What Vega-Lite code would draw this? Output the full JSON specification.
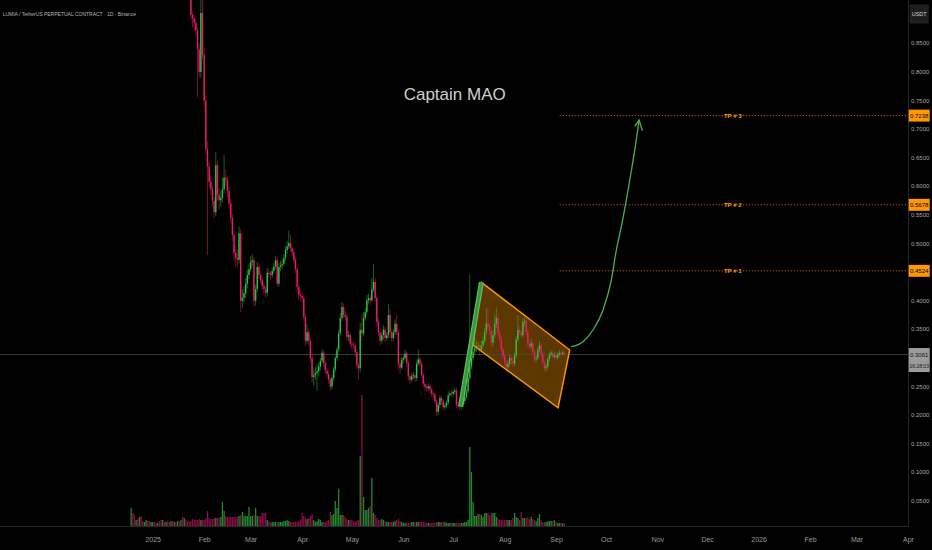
{
  "$schema": "https://vega.github.io/schema/vega-lite/v6.json",
  "description": "LUMIA / TetherUS perpetual, daily candles with bull flag and three targets",
  "width": 908,
  "height": 526,
  "autosize": {"type": "none"},
  "padding": {"left": 0, "top": 0, "right": 24, "bottom": 24},
  "background": "#000000",
  "config": {
    "view": {"stroke": null},
    "font": "Liberation Sans Narrow, Liberation Sans, Arial, sans-serif",
    "axis": {"grid": false, "ticks": false, "domainColor": "#262626", "labelColor": "#a8a8a8", "titleColor": "#a8a8a8"}
  },
  "datasets": {
    "candles": [
      {"t":"2024-12-19","o":1.20,"h":1.75,"l":1.10,"c":1.55,"v":18},
      {"t":"2024-12-20","o":1.55,"h":1.62,"l":1.35,"c":1.42,"v":13},
      {"t":"2024-12-21","o":1.42,"h":1.48,"l":1.24,"c":1.30,"v":11},
      {"t":"2024-12-22","o":1.30,"h":1.40,"l":1.26,"c":1.36,"v":6},
      {"t":"2024-12-23","o":1.36,"h":1.38,"l":1.22,"c":1.28,"v":7},
      {"t":"2024-12-24","o":1.28,"h":1.45,"l":1.26,"c":1.40,"v":9},
      {"t":"2024-12-25","o":1.40,"h":1.44,"l":1.28,"c":1.31,"v":10},
      {"t":"2024-12-26","o":1.31,"h":1.34,"l":1.24,"c":1.27,"v":5},
      {"t":"2024-12-27","o":1.27,"h":1.33,"l":1.25,"c":1.30,"v":4},
      {"t":"2024-12-28","o":1.30,"h":1.36,"l":1.28,"c":1.33,"v":6},
      {"t":"2024-12-29","o":1.33,"h":1.35,"l":1.26,"c":1.29,"v":5},
      {"t":"2024-12-30","o":1.29,"h":1.31,"l":1.22,"c":1.25,"v":5},
      {"t":"2024-12-31","o":1.25,"h":1.30,"l":1.23,"c":1.28,"v":4},
      {"t":"2025-01-01","o":1.28,"h":1.33,"l":1.26,"c":1.30,"v":4},
      {"t":"2025-01-02","o":1.30,"h":1.32,"l":1.25,"c":1.27,"v":4},
      {"t":"2025-01-03","o":1.27,"h":1.29,"l":1.22,"c":1.24,"v":3},
      {"t":"2025-01-04","o":1.24,"h":1.29,"l":1.23,"c":1.27,"v":3},
      {"t":"2025-01-05","o":1.27,"h":1.28,"l":1.20,"c":1.22,"v":5},
      {"t":"2025-01-06","o":1.22,"h":1.24,"l":1.17,"c":1.19,"v":6},
      {"t":"2025-01-07","o":1.19,"h":1.23,"l":1.17,"c":1.21,"v":6},
      {"t":"2025-01-08","o":1.21,"h":1.22,"l":1.14,"c":1.16,"v":4},
      {"t":"2025-01-09","o":1.16,"h":1.20,"l":1.15,"c":1.18,"v":4},
      {"t":"2025-01-10","o":1.18,"h":1.19,"l":1.11,"c":1.13,"v":5},
      {"t":"2025-01-11","o":1.13,"h":1.15,"l":1.08,"c":1.10,"v":4},
      {"t":"2025-01-12","o":1.10,"h":1.14,"l":1.09,"c":1.12,"v":5},
      {"t":"2025-01-13","o":1.12,"h":1.13,"l":1.06,"c":1.08,"v":5},
      {"t":"2025-01-14","o":1.08,"h":1.12,"l":1.07,"c":1.10,"v":4},
      {"t":"2025-01-15","o":1.10,"h":1.11,"l":1.04,"c":1.06,"v":4},
      {"t":"2025-01-16","o":1.06,"h":1.11,"l":1.05,"c":1.09,"v":5},
      {"t":"2025-01-17","o":1.09,"h":1.10,"l":1.03,"c":1.05,"v":5},
      {"t":"2025-01-18","o":1.05,"h":1.09,"l":1.03,"c":1.07,"v":6},
      {"t":"2025-01-19","o":1.07,"h":1.08,"l":0.99,"c":1.01,"v":9},
      {"t":"2025-01-20","o":1.01,"h":1.06,"l":0.99,"c":1.04,"v":8},
      {"t":"2025-01-21","o":1.04,"h":1.05,"l":0.97,"c":0.99,"v":6},
      {"t":"2025-01-22","o":0.99,"h":1.02,"l":0.96,"c":0.97,"v":5},
      {"t":"2025-01-23","o":0.97,"h":1.00,"l":0.945,"c":0.96,"v":4},
      {"t":"2025-01-24","o":0.96,"h":0.98,"l":0.89,"c":0.90,"v":5},
      {"t":"2025-01-25","o":0.90,"h":0.905,"l":0.878,"c":0.894,"v":7},
      {"t":"2025-01-26","o":0.894,"h":0.90,"l":0.872,"c":0.886,"v":6},
      {"t":"2025-01-27","o":0.886,"h":0.892,"l":0.862,"c":0.873,"v":6},
      {"t":"2025-01-28","o":0.873,"h":0.878,"l":0.756,"c":0.84,"v":6},
      {"t":"2025-01-29","o":0.84,"h":0.85,"l":0.79,"c":0.80,"v":7},
      {"t":"2025-01-30","o":0.80,"h":0.94,"l":0.79,"c":0.903,"v":6},
      {"t":"2025-01-31","o":0.903,"h":0.93,"l":0.82,"c":0.83,"v":6},
      {"t":"2025-02-01","o":0.83,"h":0.842,"l":0.74,"c":0.75,"v":6},
      {"t":"2025-02-02","o":0.75,"h":0.76,"l":0.655,"c":0.665,"v":8},
      {"t":"2025-02-03","o":0.665,"h":0.68,"l":0.48,"c":0.635,"v":15},
      {"t":"2025-02-04","o":0.635,"h":0.645,"l":0.598,"c":0.608,"v":8},
      {"t":"2025-02-05","o":0.608,"h":0.62,"l":0.585,"c":0.595,"v":7},
      {"t":"2025-02-06","o":0.595,"h":0.603,"l":0.565,"c":0.575,"v":7},
      {"t":"2025-02-07","o":0.575,"h":0.582,"l":0.545,"c":0.555,"v":8},
      {"t":"2025-02-08","o":0.555,"h":0.66,"l":0.548,"c":0.637,"v":8},
      {"t":"2025-02-09","o":0.637,"h":0.645,"l":0.575,"c":0.585,"v":8},
      {"t":"2025-02-10","o":0.585,"h":0.598,"l":0.56,"c":0.576,"v":8},
      {"t":"2025-02-11","o":0.576,"h":0.592,"l":0.565,"c":0.58,"v":9},
      {"t":"2025-02-12","o":0.58,"h":0.615,"l":0.572,"c":0.595,"v":24},
      {"t":"2025-02-13","o":0.595,"h":0.655,"l":0.588,"c":0.615,"v":15},
      {"t":"2025-02-14","o":0.615,"h":0.63,"l":0.60,"c":0.612,"v":10},
      {"t":"2025-02-15","o":0.612,"h":0.618,"l":0.58,"c":0.592,"v":9},
      {"t":"2025-02-16","o":0.592,"h":0.60,"l":0.56,"c":0.57,"v":9},
      {"t":"2025-02-17","o":0.57,"h":0.578,"l":0.535,"c":0.545,"v":9},
      {"t":"2025-02-18","o":0.545,"h":0.552,"l":0.505,"c":0.515,"v":9},
      {"t":"2025-02-19","o":0.515,"h":0.522,"l":0.47,"c":0.484,"v":9},
      {"t":"2025-02-20","o":0.484,"h":0.495,"l":0.46,"c":0.475,"v":9},
      {"t":"2025-02-21","o":0.475,"h":0.49,"l":0.458,"c":0.472,"v":9},
      {"t":"2025-02-22","o":0.472,"h":0.53,"l":0.465,"c":0.518,"v":10},
      {"t":"2025-02-23","o":0.518,"h":0.525,"l":0.38,"c":0.40,"v":11},
      {"t":"2025-02-24","o":0.40,"h":0.42,"l":0.388,"c":0.405,"v":14},
      {"t":"2025-02-25","o":0.405,"h":0.425,"l":0.398,"c":0.413,"v":10},
      {"t":"2025-02-26","o":0.413,"h":0.44,"l":0.405,"c":0.43,"v":10},
      {"t":"2025-02-27","o":0.43,"h":0.455,"l":0.422,"c":0.445,"v":10},
      {"t":"2025-02-28","o":0.445,"h":0.465,"l":0.438,"c":0.455,"v":19},
      {"t":"2025-03-01","o":0.455,"h":0.478,"l":0.45,"c":0.468,"v":10},
      {"t":"2025-03-02","o":0.468,"h":0.482,"l":0.46,"c":0.471,"v":10},
      {"t":"2025-03-03","o":0.471,"h":0.476,"l":0.39,"c":0.40,"v":11},
      {"t":"2025-03-04","o":0.40,"h":0.428,"l":0.392,"c":0.42,"v":18},
      {"t":"2025-03-05","o":0.42,"h":0.468,"l":0.415,"c":0.459,"v":10},
      {"t":"2025-03-06","o":0.459,"h":0.465,"l":0.438,"c":0.445,"v":10},
      {"t":"2025-03-07","o":0.445,"h":0.452,"l":0.43,"c":0.436,"v":10},
      {"t":"2025-03-08","o":0.436,"h":0.442,"l":0.42,"c":0.426,"v":13},
      {"t":"2025-03-09","o":0.426,"h":0.432,"l":0.412,"c":0.42,"v":13},
      {"t":"2025-03-10","o":0.42,"h":0.425,"l":0.405,"c":0.414,"v":13},
      {"t":"2025-03-11","o":0.414,"h":0.458,"l":0.408,"c":0.449,"v":6},
      {"t":"2025-03-12","o":0.449,"h":0.456,"l":0.44,"c":0.447,"v":5},
      {"t":"2025-03-13","o":0.447,"h":0.452,"l":0.436,"c":0.445,"v":4},
      {"t":"2025-03-14","o":0.445,"h":0.458,"l":0.44,"c":0.452,"v":4},
      {"t":"2025-03-15","o":0.452,"h":0.466,"l":0.448,"c":0.46,"v":4},
      {"t":"2025-03-16","o":0.46,"h":0.478,"l":0.455,"c":0.471,"v":4},
      {"t":"2025-03-17","o":0.471,"h":0.476,"l":0.425,"c":0.43,"v":4},
      {"t":"2025-03-18","o":0.43,"h":0.466,"l":0.425,"c":0.459,"v":4},
      {"t":"2025-03-19","o":0.459,"h":0.47,"l":0.452,"c":0.462,"v":4},
      {"t":"2025-03-20","o":0.462,"h":0.472,"l":0.455,"c":0.465,"v":4},
      {"t":"2025-03-21","o":0.465,"h":0.482,"l":0.46,"c":0.475,"v":5},
      {"t":"2025-03-22","o":0.475,"h":0.495,"l":0.47,"c":0.489,"v":5},
      {"t":"2025-03-23","o":0.489,"h":0.505,"l":0.482,"c":0.495,"v":6},
      {"t":"2025-03-24","o":0.495,"h":0.523,"l":0.49,"c":0.501,"v":5},
      {"t":"2025-03-25","o":0.501,"h":0.515,"l":0.486,"c":0.492,"v":4},
      {"t":"2025-03-26","o":0.492,"h":0.498,"l":0.478,"c":0.485,"v":4},
      {"t":"2025-03-27","o":0.485,"h":0.49,"l":0.465,"c":0.472,"v":4},
      {"t":"2025-03-28","o":0.472,"h":0.478,"l":0.448,"c":0.455,"v":4},
      {"t":"2025-03-29","o":0.455,"h":0.46,"l":0.415,"c":0.424,"v":4},
      {"t":"2025-03-30","o":0.424,"h":0.43,"l":0.402,"c":0.41,"v":5},
      {"t":"2025-03-31","o":0.41,"h":0.418,"l":0.40,"c":0.408,"v":6},
      {"t":"2025-04-01","o":0.408,"h":0.415,"l":0.398,"c":0.405,"v":13},
      {"t":"2025-04-02","o":0.405,"h":0.41,"l":0.365,"c":0.372,"v":10},
      {"t":"2025-04-03","o":0.372,"h":0.378,"l":0.322,"c":0.33,"v":8},
      {"t":"2025-04-04","o":0.33,"h":0.36,"l":0.325,"c":0.345,"v":7},
      {"t":"2025-04-05","o":0.345,"h":0.35,"l":0.322,"c":0.33,"v":8},
      {"t":"2025-04-06","o":0.33,"h":0.335,"l":0.292,"c":0.30,"v":10},
      {"t":"2025-04-07","o":0.30,"h":0.305,"l":0.258,"c":0.267,"v":12},
      {"t":"2025-04-08","o":0.267,"h":0.282,"l":0.252,"c":0.27,"v":6},
      {"t":"2025-04-09","o":0.27,"h":0.285,"l":0.262,"c":0.274,"v":4},
      {"t":"2025-04-10","o":0.274,"h":0.29,"l":0.242,"c":0.277,"v":5},
      {"t":"2025-04-11","o":0.277,"h":0.292,"l":0.268,"c":0.285,"v":7},
      {"t":"2025-04-12","o":0.285,"h":0.30,"l":0.278,"c":0.295,"v":6},
      {"t":"2025-04-13","o":0.295,"h":0.315,"l":0.29,"c":0.309,"v":4},
      {"t":"2025-04-14","o":0.309,"h":0.314,"l":0.285,"c":0.291,"v":4},
      {"t":"2025-04-15","o":0.291,"h":0.296,"l":0.272,"c":0.278,"v":4},
      {"t":"2025-04-16","o":0.278,"h":0.283,"l":0.265,"c":0.272,"v":5},
      {"t":"2025-04-17","o":0.272,"h":0.276,"l":0.255,"c":0.262,"v":6},
      {"t":"2025-04-18","o":0.262,"h":0.266,"l":0.243,"c":0.25,"v":14},
      {"t":"2025-04-19","o":0.25,"h":0.27,"l":0.245,"c":0.265,"v":11},
      {"t":"2025-04-20","o":0.265,"h":0.285,"l":0.26,"c":0.28,"v":12},
      {"t":"2025-04-21","o":0.28,"h":0.305,"l":0.275,"c":0.30,"v":25},
      {"t":"2025-04-22","o":0.30,"h":0.32,"l":0.295,"c":0.315,"v":18},
      {"t":"2025-04-23","o":0.315,"h":0.35,"l":0.31,"c":0.343,"v":37},
      {"t":"2025-04-24","o":0.343,"h":0.378,"l":0.338,"c":0.37,"v":11},
      {"t":"2025-04-25","o":0.37,"h":0.398,"l":0.365,"c":0.389,"v":11},
      {"t":"2025-04-26","o":0.389,"h":0.395,"l":0.37,"c":0.375,"v":11},
      {"t":"2025-04-27","o":0.375,"h":0.382,"l":0.365,"c":0.372,"v":9},
      {"t":"2025-04-28","o":0.372,"h":0.378,"l":0.33,"c":0.337,"v":7},
      {"t":"2025-04-29","o":0.337,"h":0.348,"l":0.33,"c":0.34,"v":6},
      {"t":"2025-04-30","o":0.34,"h":0.345,"l":0.318,"c":0.325,"v":6},
      {"t":"2025-05-01","o":0.325,"h":0.33,"l":0.315,"c":0.323,"v":6},
      {"t":"2025-05-02","o":0.323,"h":0.328,"l":0.316,"c":0.322,"v":5},
      {"t":"2025-05-03","o":0.322,"h":0.326,"l":0.302,"c":0.31,"v":4},
      {"t":"2025-05-04","o":0.31,"h":0.314,"l":0.28,"c":0.287,"v":5},
      {"t":"2025-05-05","o":0.287,"h":0.292,"l":0.262,"c":0.282,"v":6},
      {"t":"2025-05-06","o":0.282,"h":0.362,"l":0.275,"c":0.349,"v":70},
      {"t":"2025-05-07","o":0.349,"h":0.378,"l":0.33,"c":0.343,"v":131},
      {"t":"2025-05-08","o":0.343,"h":0.38,"l":0.338,"c":0.37,"v":29},
      {"t":"2025-05-09","o":0.37,"h":0.388,"l":0.365,"c":0.38,"v":16},
      {"t":"2025-05-10","o":0.38,"h":0.41,"l":0.375,"c":0.401,"v":16},
      {"t":"2025-05-11","o":0.401,"h":0.412,"l":0.395,"c":0.405,"v":18},
      {"t":"2025-05-12","o":0.405,"h":0.41,"l":0.392,"c":0.401,"v":20},
      {"t":"2025-05-13","o":0.401,"h":0.44,"l":0.398,"c":0.42,"v":48},
      {"t":"2025-05-14","o":0.42,"h":0.464,"l":0.415,"c":0.433,"v":13},
      {"t":"2025-05-15","o":0.433,"h":0.44,"l":0.398,"c":0.405,"v":11},
      {"t":"2025-05-16","o":0.405,"h":0.41,"l":0.355,"c":0.363,"v":8},
      {"t":"2025-05-17","o":0.363,"h":0.37,"l":0.338,"c":0.345,"v":6},
      {"t":"2025-05-18","o":0.345,"h":0.35,"l":0.322,"c":0.33,"v":6},
      {"t":"2025-05-19","o":0.33,"h":0.345,"l":0.325,"c":0.34,"v":7},
      {"t":"2025-05-20","o":0.34,"h":0.358,"l":0.332,"c":0.35,"v":6},
      {"t":"2025-05-21","o":0.35,"h":0.355,"l":0.328,"c":0.335,"v":5},
      {"t":"2025-05-22","o":0.335,"h":0.345,"l":0.33,"c":0.34,"v":4},
      {"t":"2025-05-23","o":0.34,"h":0.395,"l":0.335,"c":0.375,"v":4},
      {"t":"2025-05-24","o":0.375,"h":0.385,"l":0.335,"c":0.345,"v":4},
      {"t":"2025-05-25","o":0.345,"h":0.35,"l":0.328,"c":0.335,"v":4},
      {"t":"2025-05-26","o":0.335,"h":0.35,"l":0.33,"c":0.345,"v":4},
      {"t":"2025-05-27","o":0.345,"h":0.368,"l":0.34,"c":0.36,"v":5},
      {"t":"2025-05-28","o":0.36,"h":0.375,"l":0.34,"c":0.345,"v":6},
      {"t":"2025-05-29","o":0.345,"h":0.35,"l":0.28,"c":0.29,"v":7},
      {"t":"2025-05-30","o":0.29,"h":0.30,"l":0.272,"c":0.283,"v":5},
      {"t":"2025-05-31","o":0.283,"h":0.302,"l":0.28,"c":0.297,"v":4},
      {"t":"2025-06-01","o":0.297,"h":0.305,"l":0.29,"c":0.30,"v":3},
      {"t":"2025-06-02","o":0.30,"h":0.315,"l":0.295,"c":0.308,"v":3},
      {"t":"2025-06-03","o":0.308,"h":0.312,"l":0.285,"c":0.291,"v":3},
      {"t":"2025-06-04","o":0.291,"h":0.295,"l":0.26,"c":0.268,"v":3},
      {"t":"2025-06-05","o":0.268,"h":0.272,"l":0.255,"c":0.262,"v":3},
      {"t":"2025-06-06","o":0.262,"h":0.274,"l":0.258,"c":0.268,"v":4},
      {"t":"2025-06-07","o":0.268,"h":0.276,"l":0.262,"c":0.27,"v":4},
      {"t":"2025-06-08","o":0.27,"h":0.274,"l":0.258,"c":0.265,"v":4},
      {"t":"2025-06-09","o":0.265,"h":0.296,"l":0.26,"c":0.29,"v":4},
      {"t":"2025-06-10","o":0.29,"h":0.315,"l":0.286,"c":0.298,"v":4},
      {"t":"2025-06-11","o":0.298,"h":0.303,"l":0.285,"c":0.29,"v":4},
      {"t":"2025-06-12","o":0.29,"h":0.294,"l":0.265,"c":0.27,"v":4},
      {"t":"2025-06-13","o":0.27,"h":0.274,"l":0.25,"c":0.255,"v":4},
      {"t":"2025-06-14","o":0.255,"h":0.26,"l":0.243,"c":0.249,"v":4},
      {"t":"2025-06-15","o":0.249,"h":0.254,"l":0.24,"c":0.247,"v":3},
      {"t":"2025-06-16","o":0.247,"h":0.256,"l":0.242,"c":0.251,"v":3},
      {"t":"2025-06-17","o":0.251,"h":0.255,"l":0.238,"c":0.245,"v":3},
      {"t":"2025-06-18","o":0.245,"h":0.248,"l":0.232,"c":0.238,"v":3},
      {"t":"2025-06-19","o":0.238,"h":0.242,"l":0.23,"c":0.236,"v":3},
      {"t":"2025-06-20","o":0.236,"h":0.24,"l":0.22,"c":0.225,"v":3},
      {"t":"2025-06-21","o":0.225,"h":0.228,"l":0.198,"c":0.206,"v":4},
      {"t":"2025-06-22","o":0.206,"h":0.222,"l":0.2,"c":0.218,"v":4},
      {"t":"2025-06-23","o":0.218,"h":0.235,"l":0.212,"c":0.23,"v":4},
      {"t":"2025-06-24","o":0.23,"h":0.234,"l":0.218,"c":0.225,"v":4},
      {"t":"2025-06-25","o":0.225,"h":0.228,"l":0.208,"c":0.214,"v":4},
      {"t":"2025-06-26","o":0.214,"h":0.222,"l":0.21,"c":0.217,"v":4},
      {"t":"2025-06-27","o":0.217,"h":0.226,"l":0.212,"c":0.222,"v":3},
      {"t":"2025-06-28","o":0.222,"h":0.24,"l":0.218,"c":0.235,"v":3},
      {"t":"2025-06-29","o":0.235,"h":0.243,"l":0.23,"c":0.238,"v":3},
      {"t":"2025-06-30","o":0.238,"h":0.243,"l":0.232,"c":0.237,"v":3},
      {"t":"2025-07-01","o":0.237,"h":0.246,"l":0.233,"c":0.241,"v":3},
      {"t":"2025-07-02","o":0.241,"h":0.248,"l":0.236,"c":0.243,"v":3},
      {"t":"2025-07-03","o":0.243,"h":0.248,"l":0.212,"c":0.218,"v":3},
      {"t":"2025-07-04","o":0.218,"h":0.224,"l":0.21,"c":0.216,"v":3},
      {"t":"2025-07-05","o":0.216,"h":0.222,"l":0.208,"c":0.215,"v":3},
      {"t":"2025-07-06","o":0.215,"h":0.224,"l":0.21,"c":0.218,"v":3},
      {"t":"2025-07-07","o":0.218,"h":0.228,"l":0.214,"c":0.225,"v":3},
      {"t":"2025-07-08","o":0.225,"h":0.236,"l":0.22,"c":0.232,"v":4},
      {"t":"2025-07-09","o":0.232,"h":0.246,"l":0.228,"c":0.242,"v":4},
      {"t":"2025-07-10","o":0.242,"h":0.272,"l":0.238,"c":0.265,"v":6},
      {"t":"2025-07-11","o":0.265,"h":0.445,"l":0.26,"c":0.285,"v":79},
      {"t":"2025-07-12","o":0.285,"h":0.335,"l":0.28,"c":0.30,"v":54},
      {"t":"2025-07-13","o":0.30,"h":0.33,"l":0.295,"c":0.312,"v":24},
      {"t":"2025-07-14","o":0.312,"h":0.335,"l":0.305,"c":0.317,"v":10},
      {"t":"2025-07-15","o":0.317,"h":0.33,"l":0.31,"c":0.321,"v":10},
      {"t":"2025-07-16","o":0.321,"h":0.328,"l":0.312,"c":0.322,"v":12},
      {"t":"2025-07-17","o":0.322,"h":0.326,"l":0.305,"c":0.314,"v":12},
      {"t":"2025-07-18","o":0.314,"h":0.33,"l":0.31,"c":0.322,"v":11},
      {"t":"2025-07-19","o":0.322,"h":0.338,"l":0.318,"c":0.33,"v":9},
      {"t":"2025-07-20","o":0.33,"h":0.352,"l":0.326,"c":0.346,"v":13},
      {"t":"2025-07-21","o":0.346,"h":0.387,"l":0.34,"c":0.36,"v":13},
      {"t":"2025-07-22","o":0.36,"h":0.39,"l":0.35,"c":0.355,"v":13},
      {"t":"2025-07-23","o":0.355,"h":0.362,"l":0.34,"c":0.346,"v":11},
      {"t":"2025-07-24","o":0.346,"h":0.35,"l":0.318,"c":0.327,"v":13},
      {"t":"2025-07-25","o":0.327,"h":0.348,"l":0.32,"c":0.34,"v":13},
      {"t":"2025-07-26","o":0.34,"h":0.375,"l":0.335,"c":0.36,"v":13},
      {"t":"2025-07-27","o":0.36,"h":0.388,"l":0.352,"c":0.37,"v":9},
      {"t":"2025-07-28","o":0.37,"h":0.378,"l":0.338,"c":0.343,"v":8},
      {"t":"2025-07-29","o":0.343,"h":0.35,"l":0.328,"c":0.333,"v":6},
      {"t":"2025-07-30","o":0.333,"h":0.338,"l":0.31,"c":0.315,"v":6},
      {"t":"2025-07-31","o":0.315,"h":0.32,"l":0.298,"c":0.303,"v":6},
      {"t":"2025-08-01","o":0.303,"h":0.308,"l":0.286,"c":0.292,"v":6},
      {"t":"2025-08-02","o":0.292,"h":0.296,"l":0.276,"c":0.284,"v":6},
      {"t":"2025-08-03","o":0.284,"h":0.296,"l":0.278,"c":0.29,"v":6},
      {"t":"2025-08-04","o":0.29,"h":0.306,"l":0.285,"c":0.30,"v":6},
      {"t":"2025-08-05","o":0.30,"h":0.305,"l":0.288,"c":0.295,"v":6},
      {"t":"2025-08-06","o":0.295,"h":0.30,"l":0.284,"c":0.29,"v":8},
      {"t":"2025-08-07","o":0.29,"h":0.31,"l":0.286,"c":0.305,"v":13},
      {"t":"2025-08-08","o":0.305,"h":0.338,"l":0.30,"c":0.332,"v":9},
      {"t":"2025-08-09","o":0.332,"h":0.375,"l":0.328,"c":0.349,"v":8},
      {"t":"2025-08-10","o":0.349,"h":0.356,"l":0.34,"c":0.345,"v":6},
      {"t":"2025-08-11","o":0.345,"h":0.35,"l":0.334,"c":0.34,"v":14},
      {"t":"2025-08-12","o":0.34,"h":0.37,"l":0.336,"c":0.363,"v":8},
      {"t":"2025-08-13","o":0.363,"h":0.372,"l":0.356,"c":0.365,"v":8},
      {"t":"2025-08-14","o":0.365,"h":0.37,"l":0.34,"c":0.345,"v":8},
      {"t":"2025-08-15","o":0.345,"h":0.35,"l":0.318,"c":0.325,"v":9},
      {"t":"2025-08-16","o":0.325,"h":0.33,"l":0.314,"c":0.32,"v":7},
      {"t":"2025-08-17","o":0.32,"h":0.335,"l":0.316,"c":0.326,"v":9},
      {"t":"2025-08-18","o":0.326,"h":0.33,"l":0.305,"c":0.31,"v":7},
      {"t":"2025-08-19","o":0.31,"h":0.314,"l":0.292,"c":0.298,"v":6},
      {"t":"2025-08-20","o":0.298,"h":0.305,"l":0.292,"c":0.30,"v":5},
      {"t":"2025-08-21","o":0.30,"h":0.32,"l":0.296,"c":0.315,"v":8},
      {"t":"2025-08-22","o":0.315,"h":0.33,"l":0.31,"c":0.322,"v":12},
      {"t":"2025-08-23","o":0.322,"h":0.326,"l":0.302,"c":0.307,"v":6},
      {"t":"2025-08-24","o":0.307,"h":0.31,"l":0.288,"c":0.293,"v":4},
      {"t":"2025-08-25","o":0.293,"h":0.296,"l":0.276,"c":0.282,"v":4},
      {"t":"2025-08-26","o":0.282,"h":0.29,"l":0.277,"c":0.285,"v":4},
      {"t":"2025-08-27","o":0.285,"h":0.302,"l":0.281,"c":0.298,"v":5},
      {"t":"2025-08-28","o":0.298,"h":0.31,"l":0.294,"c":0.306,"v":5},
      {"t":"2025-08-29","o":0.306,"h":0.314,"l":0.302,"c":0.309,"v":5},
      {"t":"2025-08-30","o":0.309,"h":0.312,"l":0.298,"c":0.302,"v":5},
      {"t":"2025-08-31","o":0.302,"h":0.31,"l":0.299,"c":0.305,"v":6},
      {"t":"2025-09-01","o":0.305,"h":0.308,"l":0.296,"c":0.30,"v":4},
      {"t":"2025-09-02","o":0.30,"h":0.31,"l":0.297,"c":0.306,"v":3},
      {"t":"2025-09-03","o":0.306,"h":0.314,"l":0.303,"c":0.309,"v":3},
      {"t":"2025-09-04","o":0.309,"h":0.312,"l":0.302,"c":0.307,"v":3},
      {"t":"2025-09-05","o":0.307,"h":0.313,"l":0.304,"c":0.309,"v":3},
      {"t":"2025-09-06","o":0.309,"h":0.311,"l":0.303,"c":0.3061,"v":2}
    ],
    "flag": [
      {"t":"2025-07-12T23:00:00Z","top":0.3227,"bot":0.3227},
      {"t":"2025-07-18T00:00:00Z","top":0.4323,"bot":0.3119},
      {"t":"2025-09-02T05:00:00Z","top":0.3297,"bot":0.2131},
      {"t":"2025-09-09T05:00:00Z","top":0.3140,"bot":0.3140}
    ],
    "outline": [
      {"i":0,"t":"2025-07-12T23:00:00Z","p":0.3227},
      {"i":1,"t":"2025-07-18T00:00:00Z","p":0.4323},
      {"i":2,"t":"2025-09-09T05:00:00Z","p":0.3140},
      {"i":3,"t":"2025-09-02T05:00:00Z","p":0.2131},
      {"i":4,"t":"2025-07-12T23:00:00Z","p":0.3227}
    ],
    "pole": [
      {"t":"2025-07-05T10:00:00Z","p":0.2149},
      {"t":"2025-07-18T00:00:00Z","p":0.4323}
    ],
    "curve": [
      {"t":"2025-09-10T05:00:00Z","p":0.3198},
      {"t":"2025-09-17T05:00:00Z","p":0.3286},
      {"t":"2025-09-23T05:00:00Z","p":0.3490},
      {"t":"2025-09-29T07:00:00Z","p":0.3839},
      {"t":"2025-10-04T07:00:00Z","p":0.4364},
      {"t":"2025-10-07T07:00:00Z","p":0.4888},
      {"t":"2025-10-10T07:00:00Z","p":0.5295},
      {"t":"2025-10-13T07:00:00Z","p":0.5762},
      {"t":"2025-10-16T10:00:00Z","p":0.6287},
      {"t":"2025-10-19T00:00:00Z","p":0.6754},
      {"t":"2025-10-21T00:00:00Z","p":0.7161}
    ],
    "head": [
      {"i":0,"t":"2025-10-18T10:00:00Z","p":0.7056},
      {"i":1,"t":"2025-10-21T00:00:00Z","p":0.7161},
      {"i":2,"t":"2025-10-23T00:00:00Z","p":0.6974}
    ],
    "targets": [
      {"label":"TP # 1","p":0.4524},
      {"label":"TP # 2","p":0.5678},
      {"label":"TP # 3","p":0.7238}
    ],
    "last": [
      {"p":0.3061,"timer":"16:28:03"}
    ],
    "ticks": [
      {"p":0.05},{"p":0.10},{"p":0.15},{"p":0.20},{"p":0.25},{"p":0.35},{"p":0.40},
      {"p":0.50},{"p":0.55},{"p":0.60},{"p":0.65},{"p":0.70},{"p":0.75},{"p":0.80},{"p":0.85}
    ]
  },
  "layer": [
    {
      "layer": [
        {
          "data": {"name": "flag"},
          "mark": {"type": "area", "color": "#ff9800", "opacity": 0.36},
          "encoding": {
            "x": {"field": "t", "type": "temporal", "title": null,
              "scale": {"type": "utc", "nice": false, "padding": 0, "domain": [{"year": 2024, "month": 10, "date": 1, "utc": true}, {"year": 2026, "month": 4, "date": 1, "utc": true}]},
              "axis": {
                "orient": "bottom", "title": null, "ticks": false, "grid": false,
                "domainColor": "#262626", "labelColor": "#9c9c9c", "labelFontSize": 7,
                "labelPadding": 9, "labelFlush": false, "labelOverlap": false,
                "values": [
                  {"year": 2025, "month": 1, "date": 1, "utc": true},
                  {"year": 2025, "month": 2, "date": 1, "utc": true},
                  {"year": 2025, "month": 3, "date": 1, "utc": true},
                  {"year": 2025, "month": 4, "date": 1, "utc": true},
                  {"year": 2025, "month": 5, "date": 1, "utc": true},
                  {"year": 2025, "month": 6, "date": 1, "utc": true},
                  {"year": 2025, "month": 7, "date": 1, "utc": true},
                  {"year": 2025, "month": 8, "date": 1, "utc": true},
                  {"year": 2025, "month": 9, "date": 1, "utc": true},
                  {"year": 2025, "month": 10, "date": 1, "utc": true},
                  {"year": 2025, "month": 11, "date": 1, "utc": true},
                  {"year": 2025, "month": 12, "date": 1, "utc": true},
                  {"year": 2026, "month": 1, "date": 1, "utc": true},
                  {"year": 2026, "month": 2, "date": 1, "utc": true},
                  {"year": 2026, "month": 3, "date": 1, "utc": true},
                  {"year": 2026, "month": 4, "date": 1, "utc": true}
                ],
                "labelExpr": "utcmonth(datum.value) == 0 ? utcFormat(datum.value, '%Y') : utcFormat(datum.value, '%b')"
              }},
            "y": {"field": "top", "type": "quantitative", "title": null,
              "scale": {"domain": [0.0063, 0.9259], "nice": false, "zero": false, "padding": 0},
              "axis": {
                "orient": "right", "title": null, "ticks": false, "grid": false,
                "labels": false, "domainColor": "#262626"
              }},
            "y2": {"field": "bot"}
          }
        },
        {
          "data": {"name": "last"},
          "mark": {"type": "rule", "color": "#474747", "strokeWidth": 0.8},
          "encoding": {"y": {"field": "p", "type": "quantitative", "title": null}}
        },
        {
          "data": {"name": "candles"},
          "mark": {"type": "rule", "strokeWidth": 0.9, "opacity": 0.55, "clip": true},
          "encoding": {
            "x": {"field": "t", "type": "temporal", "title": null},
            "y": {"field": "l", "type": "quantitative", "title": null},
            "y2": {"field": "h"},
            "color": {"condition": {"test": "datum.c >= datum.o", "value": "#2bc53e"}, "value": "#ee1b6c"}
          }
        },
        {
          "data": {"name": "candles"},
          "mark": {"type": "bar", "width": 1.4, "clip": true},
          "encoding": {
            "x": {"field": "t", "type": "temporal", "title": null},
            "y": {"field": "o", "type": "quantitative", "title": null},
            "y2": {"field": "c"},
            "color": {"condition": {"test": "datum.c >= datum.o", "value": "#2bc53e"}, "value": "#ee1b6c"}
          }
        },
        {
          "data": {"name": "outline"},
          "mark": {"type": "line", "color": "#ff9800", "strokeWidth": 1.4},
          "encoding": {
            "x": {"field": "t", "type": "temporal", "title": null},
            "y": {"field": "p", "type": "quantitative", "title": null},
            "order": {"field": "i"}
          }
        },
        {
          "data": {"name": "pole"},
          "mark": {"type": "line", "color": "#5cc05c", "strokeWidth": 5},
          "encoding": {
            "x": {"field": "t", "type": "temporal", "title": null},
            "y": {"field": "p", "type": "quantitative", "title": null}
          }
        },
        {
          "data": {"name": "pole"},
          "mark": {"type": "line", "color": "#3a963a", "strokeWidth": 2.6},
          "encoding": {
            "x": {"field": "t", "type": "temporal", "title": null},
            "y": {"field": "p", "type": "quantitative", "title": null}
          }
        },
        {
          "data": {"name": "curve"},
          "mark": {"type": "line", "color": "#4caf50", "strokeWidth": 1.3, "interpolate": "monotone"},
          "encoding": {
            "x": {"field": "t", "type": "temporal", "title": null},
            "y": {"field": "p", "type": "quantitative", "title": null}
          }
        },
        {
          "data": {"name": "head"},
          "mark": {"type": "line", "color": "#4caf50", "strokeWidth": 1.3},
          "encoding": {
            "x": {"field": "t", "type": "temporal", "title": null},
            "y": {"field": "p", "type": "quantitative", "title": null},
            "order": {"field": "i"}
          }
        },
        {
          "data": {"name": "targets"},
          "mark": {"type": "rule", "color": "#ff9800", "strokeWidth": 1, "strokeDash": [1, 2], "opacity": 0.85},
          "encoding": {
            "x": {"datum": {"year": 2025, "month": 9, "date": 3, "hours": 5, "utc": true}, "type": "temporal", "title": null},
            "x2": {"datum": {"year": 2026, "month": 4, "date": 1, "utc": true}},
            "y": {"field": "p", "type": "quantitative", "title": null}
          }
        },
        {
          "data": {"name": "targets"},
          "mark": {"type": "text", "color": "#ff9800", "fontSize": 6, "fontWeight": "bold", "align": "center", "baseline": "middle"},
          "encoding": {
            "x": {"datum": {"year": 2025, "month": 12, "date": 16, "hours": 10, "utc": true}, "type": "temporal", "title": null},
            "y": {"field": "p", "type": "quantitative", "title": null},
            "text": {"field": "label"}
          }
        },
        {
          "data": {"values": [{"label": "Captain MAO"}]},
          "mark": {"type": "text", "color": "#cfcfcf", "fontSize": 17, "align": "center", "baseline": "middle"},
          "encoding": {
            "x": {"datum": {"year": 2025, "month": 7, "date": 1, "hours": 22, "utc": true}, "type": "temporal", "title": null},
            "y": {"datum": 0.7598, "type": "quantitative", "title": null},
            "text": {"field": "label"}
          }
        },
        {
          "data": {"values": [{"label": "LUMIA / TetherUS PERPETUAL CONTRACT · 1D · Binance"}]},
          "mark": {"type": "text", "color": "#b8b8b8", "fontSize": 5, "align": "left", "baseline": "middle"},
          "encoding": {
            "x": {"datum": {"year": 2024, "month": 10, "date": 2, "hours": 14, "utc": true}, "type": "temporal", "title": null},
            "y": {"datum": 0.9014, "type": "quantitative", "title": null},
            "text": {"field": "label"}
          }
        },
        {
          "data": {"name": "ticks"},
          "mark": {"type": "text", "color": "#a8a8a8", "fontSize": 6, "align": "left", "baseline": "middle"},
          "encoding": {
            "x": {"datum": {"year": 2026, "month": 4, "date": 2, "hours": 19, "utc": true}, "type": "temporal", "title": null},
            "y": {"field": "p", "type": "quantitative", "title": null},
            "text": {"field": "p", "type": "quantitative", "format": ".4f"}
          }
        },
        {
          "data": {"values": [{"label": "USDT"}]},
          "mark": {"type": "point", "shape": "M-0.86,-0.86H0.86V0.86H-0.86Z", "size": 441, "filled": true, "color": "#1e1e1e", "opacity": 1, "stroke": "#333333", "strokeWidth": 0.6},
          "encoding": {
            "x": {"datum": {"year": 2026, "month": 4, "date": 7, "hours": 18, "utc": true}, "type": "temporal", "title": null},
            "y": {"datum": 0.9014, "type": "quantitative", "title": null}
          }
        },
        {
          "data": {"values": [{"label": "USDT"}]},
          "mark": {"type": "text", "color": "#d0d0d0", "fontSize": 5.5, "align": "center", "baseline": "middle"},
          "encoding": {
            "x": {"datum": {"year": 2026, "month": 4, "date": 7, "hours": 18, "utc": true}, "type": "temporal", "title": null},
            "y": {"datum": 0.9014, "type": "quantitative", "title": null},
            "text": {"field": "label"}
          }
        },
        {
          "data": {"name": "targets"},
          "mark": {"type": "point", "shape": "M-1,-0.57H1V0.57H-1Z", "size": 441, "filled": true, "color": "#ff9800", "opacity": 1, "strokeWidth": 0},
          "encoding": {
            "x": {"datum": {"year": 2026, "month": 4, "date": 7, "hours": 18, "utc": true}, "type": "temporal", "title": null},
            "y": {"field": "p", "type": "quantitative", "title": null}
          }
        },
        {
          "data": {"name": "targets"},
          "mark": {"type": "text", "color": "#000000", "fontSize": 6, "align": "center", "baseline": "middle"},
          "encoding": {
            "x": {"datum": {"year": 2026, "month": 4, "date": 7, "hours": 18, "utc": true}, "type": "temporal", "title": null},
            "y": {"field": "p", "type": "quantitative", "title": null},
            "text": {"field": "p", "type": "quantitative", "format": ".4f"}
          }
        },
        {
          "data": {"name": "last"},
          "mark": {"type": "point", "shape": "M-1,-0.62H1V1.67H-1Z", "size": 441, "filled": true, "color": "#9a9a9a", "opacity": 1, "strokeWidth": 0},
          "encoding": {
            "x": {"datum": {"year": 2026, "month": 4, "date": 7, "hours": 18, "utc": true}, "type": "temporal", "title": null},
            "y": {"field": "p", "type": "quantitative", "title": null}
          }
        },
        {
          "data": {"name": "last"},
          "mark": {"type": "text", "color": "#161616", "fontSize": 6, "align": "center", "baseline": "middle"},
          "encoding": {
            "x": {"datum": {"year": 2026, "month": 4, "date": 7, "hours": 18, "utc": true}, "type": "temporal", "title": null},
            "y": {"field": "p", "type": "quantitative", "title": null},
            "text": {"field": "p", "type": "quantitative", "format": ".4f"}
          }
        },
        {
          "data": {"name": "last"},
          "mark": {"type": "text", "color": "#161616", "fontSize": 5, "align": "center", "baseline": "middle", "dy": 11},
          "encoding": {
            "x": {"datum": {"year": 2026, "month": 4, "date": 7, "hours": 18, "utc": true}, "type": "temporal", "title": null},
            "y": {"field": "p", "type": "quantitative", "title": null},
            "text": {"field": "timer"}
          }
        }
      ]
    },
    {
      "data": {"name": "candles"},
      "mark": {"type": "bar", "width": 1.3},
      "encoding": {
        "x": {"field": "t", "type": "temporal", "title": null,
          "scale": {"type": "utc", "nice": false, "padding": 0, "domain": [{"year": 2024, "month": 10, "date": 1, "utc": true}, {"year": 2026, "month": 4, "date": 1, "utc": true}]}},
        "y": {"field": "v", "type": "quantitative", "axis": null, "scale": {"domain": [0, 526], "nice": false}},
        "color": {"condition": {"test": "datum.c >= datum.o", "value": "#1e8a2c"}, "value": "#8b0e46"}
      }
    }
  ],
  "resolve": {"scale": {"y": "independent"}}
}
